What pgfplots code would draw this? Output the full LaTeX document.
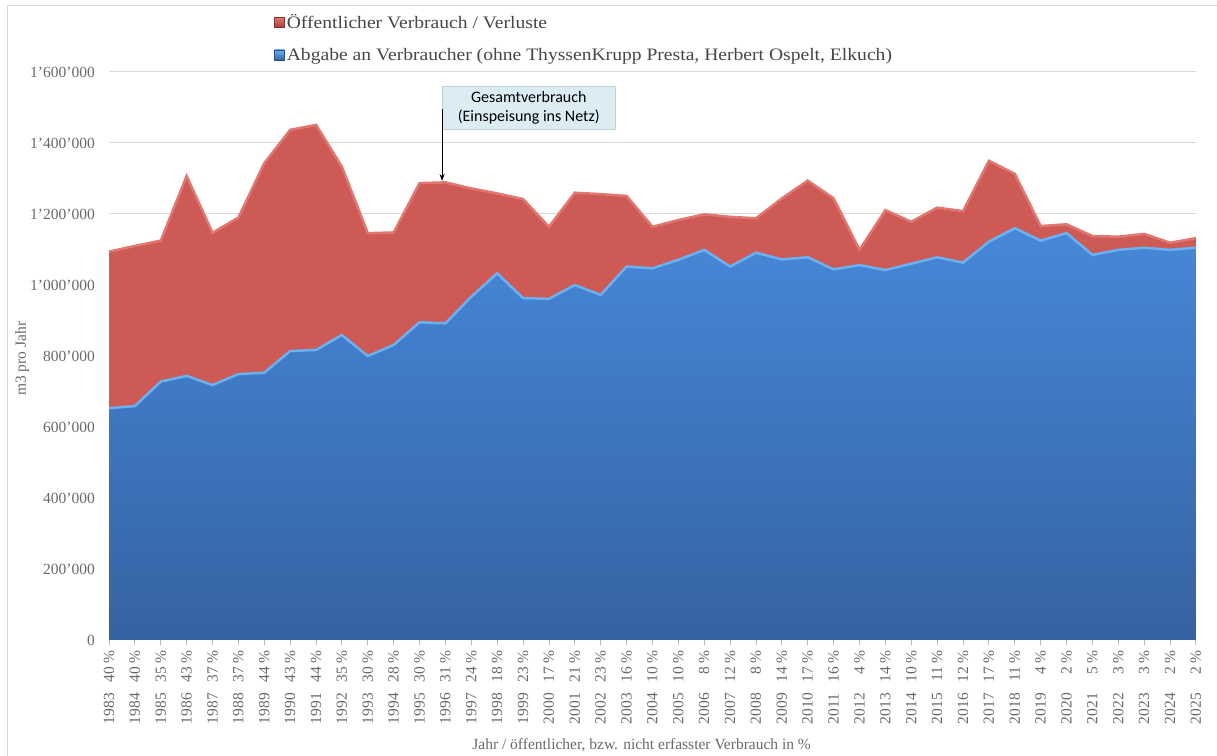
\documentclass[border=0pt]{standalone}
\usepackage{pgfplots}
\pgfplotsset{compat=1.18}
\usepackage{pgfplotstable}
\usepackage{fontspec}
\setmainfont{Liberation Serif}
\newfontfamily\legfont{Liberation Serif}[FakeStretch=1.12]
\newfontfamily\carlito{Carlito}
\usetikzlibrary{arrows.meta}

\definecolor{redfill}{RGB}{206,90,86}
\definecolor{redtop}{RGB}{226,118,113}
\definecolor{redline}{RGB}{170,60,58}
\definecolor{bluetop}{RGB}{70,136,216}
\definecolor{bluebot}{RGB}{54,98,162}
\definecolor{blueedge}{RGB}{105,178,242}
\definecolor{gridgray}{RGB}{217,217,217}
\definecolor{txtgray}{RGB}{105,105,105}
\definecolor{legtxt}{RGB}{70,70,70}
\definecolor{boxfill}{RGB}{219,237,243}
\definecolor{boxdraw}{RGB}{190,210,220}

\pgfplotstableread{
year total blue
1983 1094000 653000
1984 1110000 659000
1985 1125000 728000
1986 1307000 744000
1987 1147000 718000
1988 1190000 749000
1989 1343000 753000
1990 1437000 814000
1991 1451000 817000
1992 1333000 859000
1993 1146000 800000
1994 1148000 831000
1995 1287000 895000
1996 1289000 892000
1997 1272000 967000
1998 1258000 1033000
1999 1242000 963000
2000 1164000 961000
2001 1260000 1000000
2002 1256000 972000
2003 1251000 1052000
2004 1164000 1047000
2005 1183000 1071000
2006 1199000 1099000
2007 1192000 1052000
2008 1188000 1091000
2009 1244000 1072000
2010 1294000 1078000
2011 1244000 1044000
2012 1099000 1056000
2013 1211000 1042000
2014 1178000 1060000
2015 1218000 1078000
2016 1208000 1063000
2017 1350000 1122000
2018 1313000 1160000
2019 1166000 1125000
2020 1171000 1146000
2021 1138000 1085000
2022 1136000 1099000
2023 1144000 1105000
2024 1119000 1099000
2025 1132000 1105000
}\datatable

\newcommand\lbl[2]{\makebox[41bp][l]{#1}\makebox[33bp][r]{#2~\%}}

\begin{document}
\begin{tikzpicture}
\useasboundingbox (0,0) rectangle (1217bp,756bp);
\draw[gridgray, line width=1bp] (7bp,-10bp) -- (7bp,750bp) -- (1230bp,750bp);
\begin{axis}[
  at={(109bp,116bp)}, anchor=south west,
  scale only axis, width=1087bp, height=568bp,
  xmin=1983, xmax=2025, ymin=0, ymax=1600000,
  axis x line*=bottom, axis y line*=left,
  y axis line style={draw=none},
  x axis line style={draw=gray!55, line width=1bp},
  xtick={1983,...,2025},
  xticklabels={\lbl{1983}{40},\lbl{1984}{40},\lbl{1985}{35},\lbl{1986}{43},\lbl{1987}{37},\lbl{1988}{37},\lbl{1989}{44},\lbl{1990}{43},\lbl{1991}{44},\lbl{1992}{35},\lbl{1993}{30},\lbl{1994}{28},\lbl{1995}{30},\lbl{1996}{31},\lbl{1997}{24},\lbl{1998}{18},\lbl{1999}{23},\lbl{2000}{17},\lbl{2001}{21},\lbl{2002}{23},\lbl{2003}{16},\lbl{2004}{10},\lbl{2005}{10},\lbl{2006}{8},\lbl{2007}{12},\lbl{2008}{8},\lbl{2009}{14},\lbl{2010}{17},\lbl{2011}{16},\lbl{2012}{4},\lbl{2013}{14},\lbl{2014}{10},\lbl{2015}{11},\lbl{2016}{12},\lbl{2017}{17},\lbl{2018}{11},\lbl{2019}{4},\lbl{2020}{2},\lbl{2021}{5},\lbl{2022}{3},\lbl{2023}{3},\lbl{2024}{2},\lbl{2025}{2}},
  xticklabel style={rotate=90, anchor=east, font=\fontsize{15.5bp}{18bp}\selectfont, text=txtgray, inner sep=0pt},
  xticklabel shift=5bp,
  tick align=outside,
  xtick style={draw=gray!55, line width=0.8bp},
  major tick length=5bp,
  ytick={0,200000,...,1600000},
  ytick style={draw=none},
  scaled y ticks=false,
  yticklabel style={font=\fontsize{15.5bp}{18bp}\selectfont, text=txtgray, inner sep=0pt, xshift=-9bp,
    /pgf/number format/fixed, /pgf/number format/precision=0,
    /pgf/number format/assume math mode=true, /pgf/number format/1000 sep={\textquoteright}},
  ymajorgrids, grid style={gridgray, line width=1bp},
  xlabel={Jahr / öffentlicher, bzw. nicht erfasster Verbrauch in \%},
  xlabel style={at={(axis description cs:0.49,-0.185)}, anchor=center, font=\fontsize{15.5bp}{18bp}\selectfont, text=txtgray},
  ylabel={m3 pro Jahr},
  ylabel style={at={(axis description cs:-0.080,0.495)}, anchor=center, font=\fontsize{15.5bp}{18bp}\selectfont, text=txtgray},
  legend cell align=left,
  legend style={at={(0.152,1.0)}, anchor=south west, draw=none, fill=none,
    font=\legfont\fontsize{17.5bp}{20bp}\selectfont, text=legtxt, row sep=14bp, inner sep=0pt, yshift=8bp},
  clip=false,
]
\addlegendimage{legend image code/.code={\shade[top color=redtop, bottom color=redline, draw=redline!80!black, line width=0.4bp] (0bp,-5bp) rectangle (10bp,5bp);}}
\addlegendentry{Öffentlicher Verbrauch / Verluste}
\addlegendimage{legend image code/.code={\shade[top color=blueedge, bottom color=bluebot, draw=bluebot!80!black, line width=0.4bp] (0bp,-5bp) rectangle (10bp,5bp);}}
\addlegendentry{Abgabe an Verbraucher (ohne ThyssenKrupp Presta, Herbert Ospelt, Elkuch)}

\addplot[draw=none, fill=redfill, forget plot] table[x=year, y=total] {\datatable} \closedcycle;
\addplot[redtop, line width=2.5bp, forget plot] table[x=year, y=total] {\datatable};
\addplot[draw=none, top color=bluetop, bottom color=bluebot, forget plot] table[x=year, y=blue] {\datatable} \closedcycle;
\addplot[blueedge, line width=2.5bp, forget plot] table[x=year, y=blue] {\datatable};

\node[fill=boxfill, draw=boxdraw, align=center, anchor=north west, font=\carlito\fontsize{16bp}{19bp}\selectfont, minimum width=173bp, minimum height=43bp, inner sep=0pt] at (axis cs:1995.87,1560000) {Gesamtverbrauch\\(Einspeisung ins Netz)};
\draw[-{Stealth[length=7bp,width=5bp]}, line width=0.9bp] (axis cs:1995.87,1495000) -- (axis cs:1995.87,1293000);
\end{axis}
\end{tikzpicture}
\end{document}
